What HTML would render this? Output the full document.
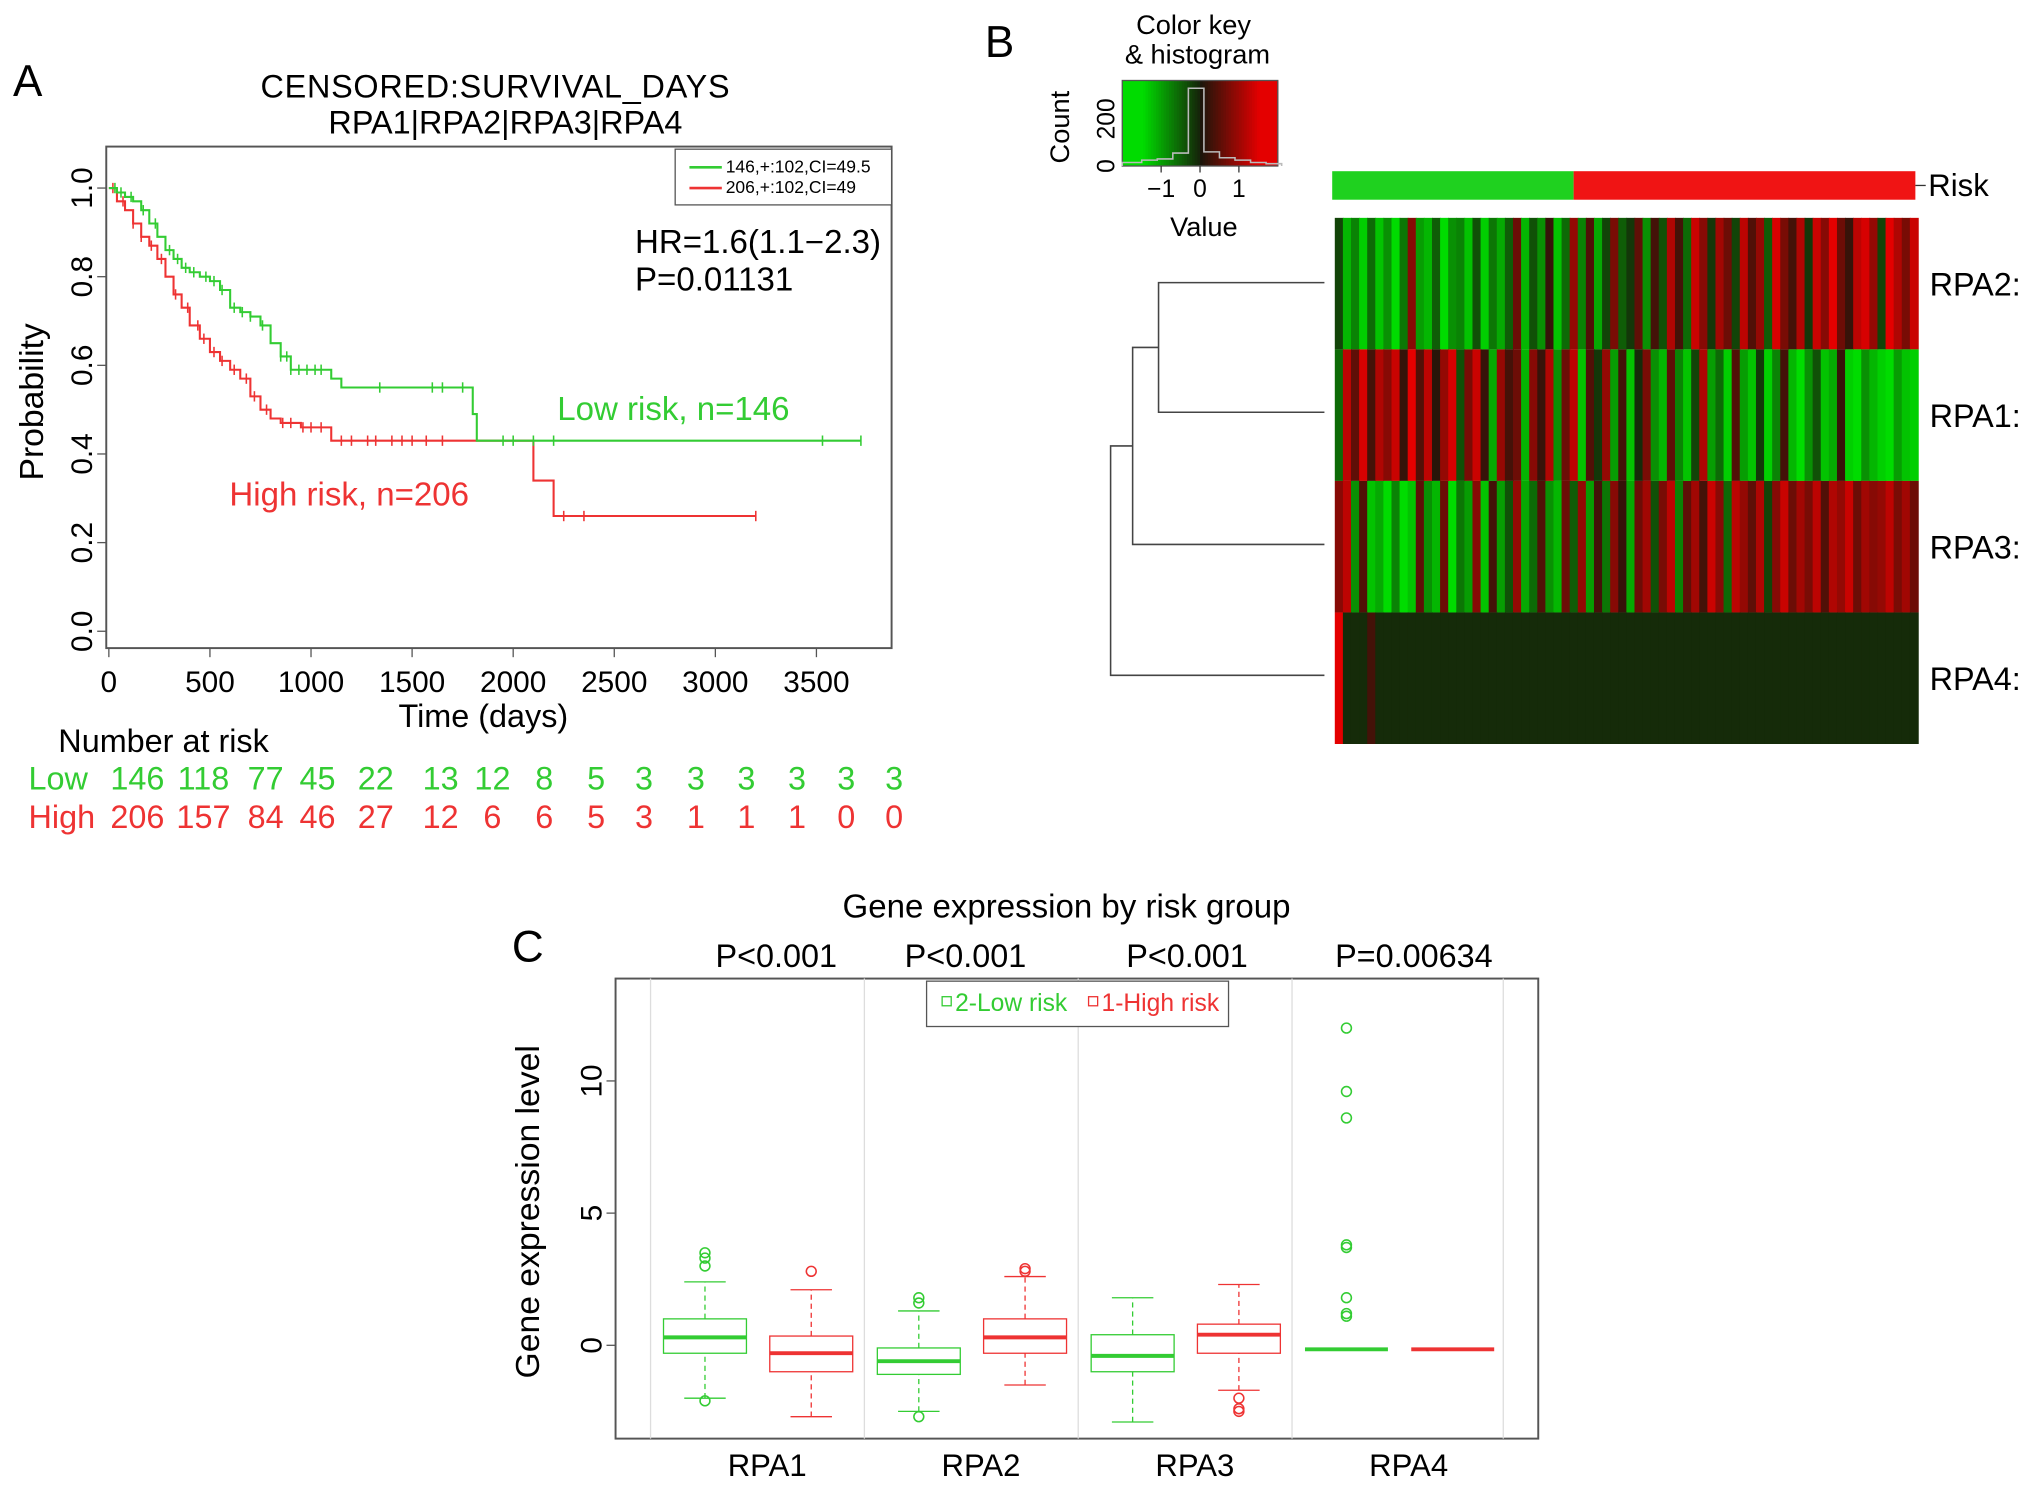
<!DOCTYPE html>
<html><head><meta charset="utf-8"><style>
html,body{margin:0;padding:0;background:#fff}
svg{display:block}
text{font-family:"Liberation Sans",Arial,sans-serif}
</style></head><body>
<svg id="fig" width="2032" height="1488" viewBox="0 0 1568 1148" xmlns="http://www.w3.org/2000/svg">
<g id="pa">
<text x="10" y="74" font-size="34">A</text>
<text x="382" y="75" font-size="25" text-anchor="middle" textLength="362">CENSORED:SURVIVAL_DAYS</text>
<text x="390" y="103" font-size="25" text-anchor="middle">RPA1|RPA2|RPA3|RPA4</text>
<rect x="82" y="113" width="606" height="387" fill="none" stroke="#555" stroke-width="1.5"/>
<rect x="521" y="115" width="167" height="43" fill="#fff" stroke="#555"/>
<line x1="532" y1="129" x2="557" y2="129" stroke="#3c3" stroke-width="2"/>
<text x="560" y="133" font-size="13.5">146,+:102,CI=49.5</text>
<line x1="532" y1="145" x2="557" y2="145" stroke="#e33" stroke-width="2"/>
<text x="560" y="149" font-size="13.5">206,+:102,CI=49</text>
<text x="490" y="195" font-size="25.5">HR=1.6(1.1−2.3)</text>
<text x="490" y="224" font-size="25.5">P=0.01131</text>
<text x="430" y="324" font-size="25.5" fill="#3c3">Low risk, n=146</text>
<text x="177" y="390" font-size="25.5" fill="#e33">High risk, n=206</text>
<text transform="translate(33,310) rotate(-90)" font-size="26" text-anchor="middle">Probability</text>
<text x="373" y="561" font-size="25" text-anchor="middle">Time (days)</text>
<text x="45" y="580" font-size="25">Number at risk</text>
<text x="22" y="609" font-size="25" fill="#3c3">Low</text>
<text x="22" y="639" font-size="25" fill="#e33">High</text>
<g id="kmAxes"></g><g id="kmLines"></g><g id="riskTable"></g>
</g>
<g id="pb">
<text x="760" y="44" font-size="34">B</text>
<text x="921" y="26" font-size="21" text-anchor="middle">Color key</text>
<text x="924" y="49" font-size="21" text-anchor="middle">&amp; histogram</text>
<text transform="translate(825,98) rotate(-90)" font-size="21" text-anchor="middle">Count</text>
<text x="929" y="182" font-size="21" text-anchor="middle">Value</text>
<g id="ckey"></g><g id="heat"></g><g id="dendro"></g>
<text x="1488" y="151" font-size="24">Risk</text>
</g>
<g id="pc">
<text x="395" y="742" font-size="34">C</text>
<text x="823" y="708" font-size="25.5" text-anchor="middle">Gene expression by risk group</text>
<text transform="translate(416,935) rotate(-90)" font-size="26" text-anchor="middle">Gene expression level</text>
<rect x="475" y="755" width="712" height="355" fill="none" stroke="#555" stroke-width="1.5"/>
<g id="box"></g>
<rect x="715" y="757" width="233" height="35" fill="#fff" stroke="#555"/>
<rect x="727" y="769" width="7" height="7" fill="none" stroke="#3c3"/>
<text x="737" y="780" font-size="19" fill="#3c3">2-Low risk</text>
<rect x="840" y="769" width="7" height="7" fill="none" stroke="#e33"/>
<text x="850" y="780" font-size="19" fill="#e33">1-High risk</text>
</g>
</svg>
<script>
const NS="http://www.w3.org/2000/svg";
// ---- Panel A data ----
const kmTicksX=[0,500,1000,1500,2000,2500,3000,3500];
const kmTicksY=[0,0.2,0.4,0.6,0.8,1.0];
const lowTimes=[0,40,80,120,160,200,240,280,320,360,400,450,500,550,600,650,700,750,800,850,900,950,1100,1150,1750,1800,1820,3720];
const lowSurv=[1.0,0.99,0.98,0.97,0.95,0.92,0.89,0.86,0.84,0.82,0.81,0.80,0.79,0.77,0.73,0.72,0.71,0.69,0.65,0.62,0.59,0.59,0.57,0.55,0.55,0.49,0.43,0.43];
const highTimes=[0,40,80,120,160,200,240,280,320,360,400,450,500,550,600,650,700,750,800,850,950,1100,2100,2200,3200];
const highSurv=[1.0,0.97,0.95,0.92,0.89,0.87,0.84,0.80,0.76,0.73,0.69,0.66,0.63,0.61,0.59,0.57,0.53,0.50,0.48,0.47,0.46,0.43,0.34,0.26,0.26];
const lowCensor=[30,60,110,170,230,300,340,380,420,480,520,560,620,660,700,760,850,880,900,940,980,1020,1050,1340,1600,1650,1750,1950,2000,2100,2200,3530,3720];
const highCensor=[20,70,120,160,210,260,330,390,440,470,520,560,620,680,720,780,860,900,960,1000,1050,1150,1200,1280,1320,1400,1450,1500,1570,1650,2250,2350,3200];
const atRiskCols=[106,157,205,245,290,340,380,420,460,497,537,576,615,653,690];
const atRiskLow=[146,118,77,45,22,13,12,8,5,3,3,3,3,3,3];
const atRiskHigh=[206,157,84,46,27,12,6,6,5,3,1,1,1,0,0];
const kx=t=>84+t*(630-84)/3500, ky=p=>487-p*342;
function el(tag,attrs,parent){const e=document.createElementNS(NS,tag);for(const k in attrs)e.setAttribute(k,attrs[k]);parent.appendChild(e);return e;}
const kA=document.getElementById('kmAxes');
kmTicksX.forEach(t=>{el('line',{x1:kx(t),y1:500,x2:kx(t),y2:507,stroke:'#555'},kA);
 const tx=el('text',{x:kx(t),y:534,'font-size':23,'text-anchor':'middle'},kA);tx.textContent=t;
 
 });
kmTicksY.forEach(p=>{el('line',{x1:75,y1:ky(p),x2:82,y2:ky(p),stroke:'#555'},kA);
 const tx=el('text',{transform:`translate(71,${ky(p)}) rotate(-90)`,'font-size':23,'text-anchor':'middle'},kA);tx.textContent=p.toFixed(1);
 
 });
function survAt(T,S,t){let s=S[0];for(let i=0;i<T.length;i++)if(T[i]<=t)s=S[i];return s;}
function drawKM(T,S,C,col,name){const g=document.getElementById('kmLines');let d=`M${kx(T[0])},${ky(S[0])}`;
 for(let i=1;i<T.length;i++){d+=` H${kx(T[i])} V${ky(S[i])}`;}
 const p=el('path',{d:d,fill:'none',stroke:col,'stroke-width':1.6},g);
 
 
 C.forEach(t=>{const y=ky(survAt(T,S,t));const m=el('line',{x1:kx(t),y1:y-4,x2:kx(t),y2:y+4,stroke:col,'stroke-width':1.2},g);
  
  });}
drawKM(highTimes,highSurv,highCensor,'#e33','km-curve-high');
drawKM(lowTimes,lowSurv,lowCensor,'#3c3','km-curve-low');
const rt=document.getElementById('riskTable');
atRiskCols.forEach((x,i)=>{let a=el('text',{x:x,y:609,'font-size':25,fill:'#3c3','text-anchor':'middle'},rt);a.textContent=atRiskLow[i];
 
 
 let b=el('text',{x:x,y:639,'font-size':25,fill:'#e33','text-anchor':'middle'},rt);b.textContent=atRiskHigh[i];
 
 });
// ---- Panel B data ----
const heatRows=['RPA2:','RPA1:','RPA3:','RPA4:'];
const rpa2Vals=[-.3,-1.2,-.8,-1.4,-.6,-1.3,-.9,-1.5,-.7,.8,-1,-1.2,-.5,-1.6,-.9,-.8,-1.3,-.4,-1.4,-.7,-1.1,-.5,.6,-1.2,-.4,-.9,.2,-1.3,-.6,.9,-.8,.4,-1.1,-.3,.7,-.5,-.2,.5,-.9,.3,-.4,1.1,.3,-.6,1.3,.8,-.2,1,.6,-.3,1.2,.4,.9,-.5,1.4,.7,.3,1.1,-.2,1.3,.8,1.5,.6,.2,1.2,1.4,.9,-.3,1.5,1.1,.7,1.3];
const rpa1Vals=[-.6,1.2,.5,1.4,.3,1.1,.8,1.3,.2,1.5,.4,1.2,.1,.9,1.4,-.4,.7,1.3,.2,-1.1,.9,.3,.6,-1.2,.8,.2,1.1,-.9,.6,1.2,-1.3,.4,-.2,.9,-1,.3,-1.3,-.1,.7,-.9,-1.2,.5,-.8,-1.3,-.3,1.1,-1,-.6,-1.4,.4,-1,-1.3,-.2,-1.4,-.8,.3,-1.2,-1.5,-.9,-.4,-1.3,-1.1,.2,-1.4,-1.5,-.9,-1.2,-1.4,-1.5,-1,-1.3,-1.4];
const rpa3Vals=[.8,1.2,-.9,.4,-1.3,-1.1,-1.6,-.8,-1.5,-1.3,.5,-.9,-1.2,.6,-1.5,-.7,-1,.8,-1.3,.3,-1,-.4,.9,-1.1,-.6,.4,-.9,-1.2,.6,-.5,.9,-1,.3,-.7,.8,.2,-1.1,.6,1,-.4,.7,1.2,-.8,.5,1,.3,1.3,.8,-.6,1.2,.9,.5,1.1,-.3,.8,1.3,.6,1,.7,1.2,.4,1.1,.9,1.3,.6,1,.8,.9,1.2,.7,1,.6];
const rpa4Vals=[1.8,-.1,-.1,-.1,.3,-.1,-.1,-.1,-.1,-.1,-.1,-.1,-.1,-.1,-.1,-.1,-.1,-.1,-.1,-.1,-.1,-.1,-.1,-.1,-.1,-.1,-.1,-.1,-.1,-.1,-.1,-.1,-.1,-.1,-.1,-.1,-.1,-.1,-.1,-.1,-.1,-.1,-.1,-.1,-.1,-.1,-.1,-.1,-.1,-.1,-.1,-.1,-.1,-.1,-.1,-.1,-.1,-.1,-.1,-.1,-.1,-.1,-.1,-.1,-.1,-.1,-.1,-.1,-.1,-.1,-.1,-.1];
const heatData=[rpa2Vals,rpa1Vals,rpa3Vals,rpa4Vals];
const riskSplit=0.414;
const histBins=[-1.9,-1.5,-1.1,-0.7,-0.3,0.1,0.5,0.9,1.3,1.7];
const histCounts=[15,25,30,55,330,60,35,25,15,10];
function heatColor(v){const t=Math.max(-1,Math.min(1,v/1.5));
 if(t<0)return `rgb(${Math.round(22*(1+t))},${Math.round(30+190*(-t))},${Math.round(10*(1+t))})`;
 return `rgb(${Math.round(28+200*t)},${Math.round(22*(1-t))},${Math.round(10*(1-t))})`;}
const hx0=1030,hx1=1480,hy0=168,rowH=101.5;
const hg=document.getElementById('heat');
heatData.forEach((row,r)=>{const w=(hx1-hx0)/row.length;
 row.forEach((v,i)=>{const c=el('rect',{x:hx0+i*w,y:hy0+r*rowH,width:w+0.6,height:rowH,fill:heatColor(v)},hg);
  
  });
 const lb=el('text',{x:1489,y:hy0+r*rowH+rowH/2+9,'font-size':25},hg);lb.textContent=heatRows[r];
 
 });
const rb1=el('rect',{x:1028,y:132,width:(1478-1028)*riskSplit,height:22,fill:'#1fd11f'},hg);


const rb2=el('rect',{x:1028+(1478-1028)*riskSplit,y:132,width:(1478-1028)*(1-riskSplit),height:22,fill:'#f01414'},hg);


el('line',{x1:1478,y1:143,x2:1486,y2:143,stroke:'#333'},hg);
const ck=document.getElementById('ckey');const cx0=866,cx1=986,cy0=62,cy1=128;
for(let i=0;i<60;i++){const v=-2+4*i/60;el('rect',{x:cx0+i*(cx1-cx0)/60,y:cy0,width:(cx1-cx0)/60+0.5,height:cy1-cy0,fill:heatColor(v*1.0)},ck);}
el('rect',{x:cx0,y:cy0,width:cx1-cx0,height:cy1-cy0,fill:'none',stroke:'#555'},ck);
const cvx=v=>cx0+(v+2)*(cx1-cx0)/4, cvy=c=>cy1-c*(cy1-cy0-6)/330;
let hd=`M${cvx(-2)},${cvy(0)}`;histBins.forEach((b,i)=>{hd+=` V${cvy(histCounts[i])} H${cvx(b+0.4)}`;});hd+=` V${cvy(0)}`;
const hp=el('path',{d:hd,fill:'none',stroke:'#bbb','stroke-width':1.2},ck);


[-1,0,1].forEach(v=>{el('line',{x1:cvx(v),y1:cy1,x2:cvx(v),y2:cy1+5,stroke:'#333'},ck);
 const t=el('text',{x:cvx(v),y:cy1+24,'font-size':19,'text-anchor':'middle'},ck);t.textContent=v<0?'−1':v;
 
 });
[0,200].forEach(c=>{const t=el('text',{transform:`translate(${cx0-6},${cvy(c)}) rotate(-90)`,'font-size':19,'text-anchor':'middle'},ck);t.textContent=c;
 
 });
const dg=document.getElementById('dendro');
const dd="M1022,218 H894 V318 H1022 M894,268 H874 V420 H1022 M874,344 H857 V521 H1022";
const dp=el('path',{d:dd,fill:'none',stroke:'#444','stroke-width':1.2},dg);


// ---- Panel C data ----
const genes=['RPA1','RPA2','RPA3','RPA4'];
const pvals=['P<0.001','P<0.001','P<0.001','P=0.00634'];
const yTicksC=[0,5,10];
const lowStats=[[-2.0,-0.3,0.3,1.0,2.4],[-2.5,-1.1,-0.6,-0.1,1.3],[-2.9,-1.0,-0.4,0.4,1.8],[-0.15,-0.15,-0.15,-0.15,-0.15]];
const highStats=[[-2.7,-1.0,-0.3,0.35,2.1],[-1.5,-0.3,0.3,1.0,2.6],[-1.7,-0.3,0.4,0.8,2.3],[-0.15,-0.15,-0.15,-0.15,-0.15]];
const lowOut=[[3.0,3.3,3.5,-2.1],[1.6,1.8,-2.7],[],[12,9.6,8.6,3.8,3.7,1.8,1.2,1.1]];
const highOut=[[2.8],[2.8,2.9],[-2.0,-2.4,-2.5],[]];
const gx=i=>585+i*165, vy=v=>1038-v*20.4;
const bg=document.getElementById('box');
[502,667,832,997,1160].forEach(x=>el('line',{x1:x,y1:755,x2:x,y2:1110,stroke:'#ddd'},bg));
yTicksC.forEach(v=>{el('line',{x1:468,y1:vy(v),x2:475,y2:vy(v),stroke:'#555'},bg);
 const t=el('text',{transform:`translate(464,${vy(v)}) rotate(-90)`,'font-size':23,'text-anchor':'middle'},bg);t.textContent=v;
 
 });
function drawBox(cx,s,outs,col,name){const w=64;const g=el('g',{},bg);
 
 
 if(s[1]!==s[3]){
 el('line',{x1:cx,y1:vy(s[0]),x2:cx,y2:vy(s[1]),stroke:col,'stroke-dasharray':'4,3'},g);
 el('line',{x1:cx,y1:vy(s[3]),x2:cx,y2:vy(s[4]),stroke:col,'stroke-dasharray':'4,3'},g);
 el('line',{x1:cx-16,y1:vy(s[0]),x2:cx+16,y2:vy(s[0]),stroke:col},g);
 el('line',{x1:cx-16,y1:vy(s[4]),x2:cx+16,y2:vy(s[4]),stroke:col},g);
 el('rect',{x:cx-w/2,y:vy(s[3]),width:w,height:vy(s[1])-vy(s[3]),fill:'#fff',stroke:col},g);}
 el('line',{x1:cx-w/2,y1:vy(s[2]),x2:cx+w/2,y2:vy(s[2]),stroke:col,'stroke-width':3},g);
 outs.forEach(o=>el('circle',{cx:cx,cy:vy(o),r:3.8,fill:'none',stroke:col,'stroke-width':1.2},g));}
genes.forEach((gname,i)=>{
 drawBox(gx(i)-41,lowStats[i],lowOut[i],'#3c3','box-low-'+gname.toLowerCase());
 drawBox(gx(i)+41,highStats[i],highOut[i],'#e33','box-high-'+gname.toLowerCase());
 const t=el('text',{x:gx(i)+7,y:1139,'font-size':24,'text-anchor':'middle'},bg);t.textContent=gname;
 
 
 const p=el('text',{x:[599,745,916,1091][i],y:746,'font-size':25,'text-anchor':'middle'},bg);p.textContent=pvals[i];
 
 });
</script>
</body></html>
